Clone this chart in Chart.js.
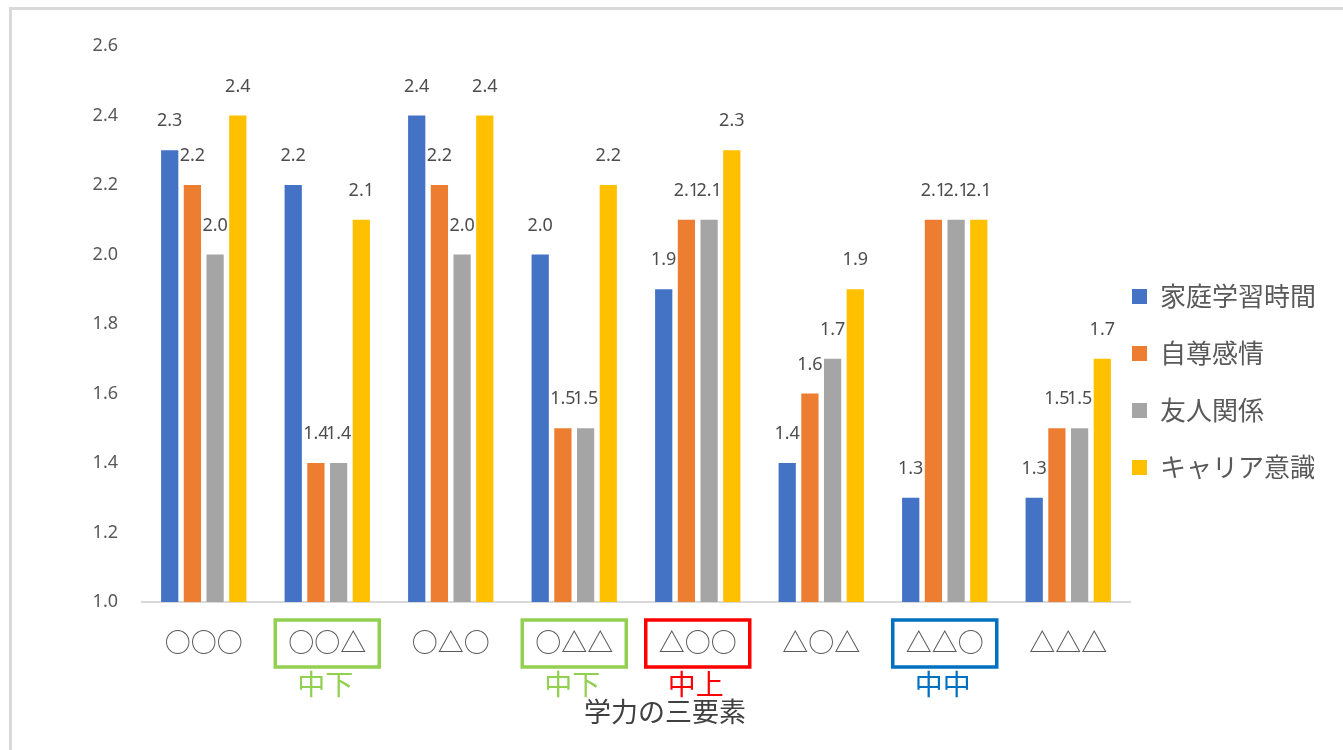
<!DOCTYPE html>
<html>
<head>
<meta charset="utf-8">
<script src="https://cdn.jsdelivr.net/npm/chart.js@4/dist/chart.umd.min.js"></script>
<style>
  html, body { margin: 0; padding: 0; background: #fff; overflow: hidden; }
  #wrap { position: relative; width: 1343px; height: 750px; }
  #frame { position: absolute; left: 9px; top: 7px; width: 1400px; height: 800px; border: 3px solid #d9d9d9; }
  #chart { position: absolute; left: 0; top: 0; }
</style>
</head>
<body>
<div id="wrap">
  <div id="frame"></div>
  <canvas id="chart" width="1343" height="750"></canvas>
</div>
<script>
// 学力の三要素 patterns
var categories = ['○○○', '○○△', '○△○', '○△△', '△○○', '△○△', '△△○', '△△△']
var seriesNames = ['家庭学習時間', '自尊感情', '友人関係', 'キャリア意識']
var homeStudy  = [2.3, 2.2, 2.4, 2.0, 1.9, 1.4, 1.3, 1.3]
var selfEsteem = [2.2, 1.4, 2.2, 1.5, 2.1, 1.6, 2.1, 1.5]
var friends    = [2.0, 1.4, 2.0, 1.5, 2.1, 1.7, 2.1, 1.5]
var career     = [2.4, 2.1, 2.4, 2.2, 2.3, 1.9, 2.1, 1.7]
var seriesColors = ['#4472C4', '#ED7D31', '#A5A5A5', '#FFC000']
var yTicks = [1.0, 1.2, 1.4, 1.6, 1.8, 2.0, 2.2, 2.4, 2.6]
var axisTitle = '学力の三要素'

// groups that get a frame and a note under the tick label
var markedIdx    = [1, 3, 4, 6]
var markedText   = ['中下', '中下', '中上', '中中']
var markedColors = ['#92D050', '#92D050', '#FF0000', '#0070C0']

var cjk = '"Noto Sans CJK JP", "Noto Sans", sans-serif'
var num = '"Noto Sans", "Liberation Sans", sans-serif'

var valueLabels = {
    id: 'valueLabels',
    afterDatasetsDraw(chart) {
        var ctx = chart.ctx
        ctx.save()
        ctx.font = '18px ' + num
        ctx.fillStyle = '#4d4d4d'
        ctx.textAlign = 'center'
        ctx.textBaseline = 'middle'
        chart.data.datasets.forEach((ds, i) => {
            chart.getDatasetMeta(i).data.forEach((bar, j) => {
                ctx.fillText(ds.data[j].toFixed(1), bar.x, bar.y - 29)
            })
        })
        ctx.restore()
    }
}

var groupMarks = {
    id: 'groupMarks',
    afterDraw(chart) {
        var ctx = chart.ctx
        var xs = chart.scales.x
        ctx.save()
        markedIdx.forEach((idx, k) => {
            var cx = xs.getPixelForValue(idx)
            ctx.strokeStyle = markedColors[k]
            ctx.lineWidth = 3.5
            ctx.strokeRect(cx - 52, 620, 104, 47)
            ctx.fillStyle = markedColors[k]
            ctx.font = '28px ' + cjk
            ctx.textAlign = 'center'
            ctx.textBaseline = 'middle'
            ctx.fillText(markedText[k], cx - 2, 684)
        })
        // axis title
        ctx.fillStyle = '#404040'
        ctx.font = '27px ' + cjk
        ctx.textAlign = 'center'
        ctx.textBaseline = 'middle'
        ctx.fillText(axisTitle, 665, 712)
        ctx.restore()
    }
}

// legend sits right next to the plot, a bit below its middle
var legendPlace = {
    id: 'legendPlace',
    afterInit(chart) {
        var lg = chart.legend
        var fit = lg.fit
        lg.fit = function () {
            fit.call(this)
            this.width = 213
        }
    },
    afterLayout(chart) {
        var lg = chart.legend
        lg.left -= 29; lg.right -= 29
        lg.top -= 16; lg.bottom -= 16
    }
}

var datasets = [homeStudy, selfEsteem, friends, career].map((vals, i) => ({
    label: seriesNames[i],
    data: vals,
    backgroundColor: seriesColors[i],
    borderWidth: 0,
    categoryPercentage: 0.735,
    barPercentage: 0.76
}))

var ctx = document.getElementById('chart').getContext('2d')
var chart = new Chart(ctx, {
    type: 'bar',
    data: { labels: categories, datasets: datasets },
    plugins: [valueLabels, groupMarks, legendPlace],
    options: {
        responsive: false,
        animation: false,
        layout: { padding: { top: 46, left: 0, right: 0, bottom: 0 } },
        plugins: {
            tooltip: { enabled: false },
            legend: {
                position: 'right',
                labels: {
                    boxWidth: 15,
                    boxHeight: 15,
                    padding: 31,
                    color: '#595959',
                    font: { size: 26, family: cjk }
                }
            }
        },
        scales: {
            x: {
                grid: { display: false, drawTicks: false },
                border: { display: true, color: '#d9d9d9', width: 2 },
                ticks: { color: '#595959', padding: 25, font: { size: 26, family: cjk } },
                afterFit(scale) { scale.height = 148 }
            },
            y: {
                min: yTicks[0],
                max: yTicks[yTicks.length - 1],
                grid: { display: false, drawTicks: false },
                border: { display: false },
                afterBuildTicks(scale) { scale.ticks = yTicks.map(v => ({ value: v })) },
                ticks: {
                    color: '#595959',
                    padding: 24,
                    font: { size: 18, family: num },
                    callback: v => v.toFixed(1)
                },
                afterFit(scale) { scale.width = 142 }
            }
        }
    }
})
</script>
</body>
</html>
